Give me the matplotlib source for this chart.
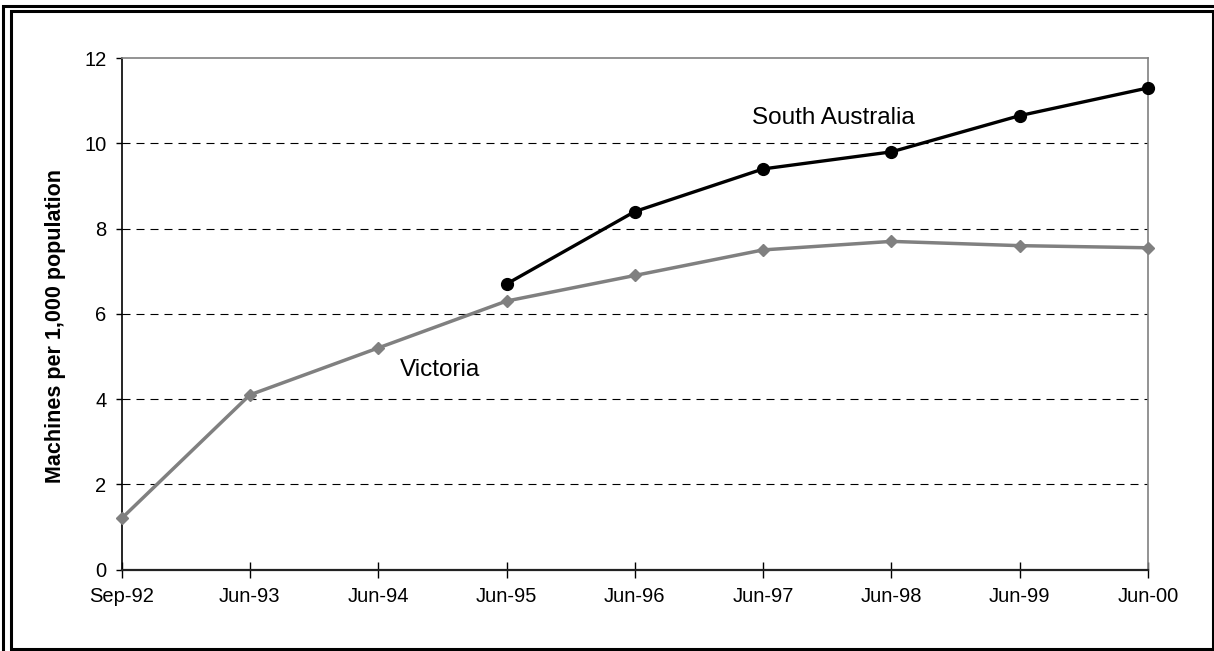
import matplotlib
matplotlib.use("Agg")
import matplotlib.pyplot as plt
from matplotlib.patches import Rectangle

# ---- data ----
categories = ["Sep-92", "Jun-93", "Jun-94", "Jun-95", "Jun-96",
              "Jun-97", "Jun-98", "Jun-99", "Jun-00"]
victoria = [1.2, 4.1, 5.2, 6.3, 6.9, 7.5, 7.7, 7.6, 7.55]
sa_categories = ["Jun-95", "Jun-96", "Jun-97", "Jun-98", "Jun-99", "Jun-00"]
south_australia = [6.7, 8.4, 9.4, 9.8, 10.65, 11.3]
y_ticks = [0, 2, 4, 6, 8, 10, 12]
y_label = "Machines per 1,000 population"

plt.rcParams['font.family'] = ['Liberation Sans', 'DejaVu Sans']

W, H = 1214, 651
fig = plt.figure(figsize=(W / 100, H / 100), dpi=100)
fig.patch.set_facecolor("white")

left, right, top, bottom = 121.6, 1148, 58.1, 569.6
ax = fig.add_axes([left / W, 1 - bottom / H, (right - left) / W, (bottom - top) / H])

xv = list(range(len(categories)))
xs = [categories.index(c) for c in sa_categories]

# grid lines
for y in y_ticks[1:-1]:
    ax.axhline(y, color="black", lw=0.8, linestyle=(0, (7.2, 5.4)), zorder=1)

ax.plot(xv, victoria, color="#808080", lw=2.5, marker="D", ms=6.5,
        markerfacecolor="#808080", markeredgecolor="#808080", clip_on=False, zorder=3)
ax.plot(xs, south_australia, color="black", lw=2.4, marker="o", ms=8.5,
        clip_on=False, zorder=4)

ax.text(5.55, 10.59, "South Australia", fontsize=17.5, ha="center", va="center")
ax.text(2.48, 4.68, "Victoria", fontsize=17.5, ha="center", va="center")

ax.set_xlim(0, len(categories) - 1)
ax.set_ylim(0, 12)
ax.set_xticks(xv)
ax.set_xticklabels(categories, fontsize=14.5)
ax.set_yticks(y_ticks)
ax.set_yticklabels([str(t) for t in y_ticks], fontsize=14.5)

ax.tick_params(axis="x", direction="inout", length=11, width=1, pad=7, color="black")
ax.tick_params(axis="y", direction="out", length=4, width=1, pad=7, color="black")

ax.spines["left"].set_color("black")
ax.spines["left"].set_linewidth(1.2)
ax.spines["bottom"].set_color("#222222")
ax.spines["bottom"].set_linewidth(1.6)
ax.spines["top"].set_color("#808080")
ax.spines["top"].set_linewidth(1.2)
ax.spines["right"].set_color("#808080")
ax.spines["right"].set_linewidth(1.2)

fig.text(56 / W, 1 - 326 / H, y_label, rotation=90, fontsize=15.5,
         fontweight="bold", ha="center", va="center")

# double border
inner = Rectangle((10.5 / W, (H - 649) / H), (1212.5 - 10.5) / W, (649 - 11) / H,
                  transform=fig.transFigure, fill=False, edgecolor="black", lw=2.2)
outer = Rectangle((2.5 / W, -0.05), 1.2, (H - 6) / H + 0.05,
                  transform=fig.transFigure, fill=False, edgecolor="black", lw=2.2)
fig.add_artist(inner)
fig.add_artist(outer)

fig.savefig("out.png", dpi=100)
